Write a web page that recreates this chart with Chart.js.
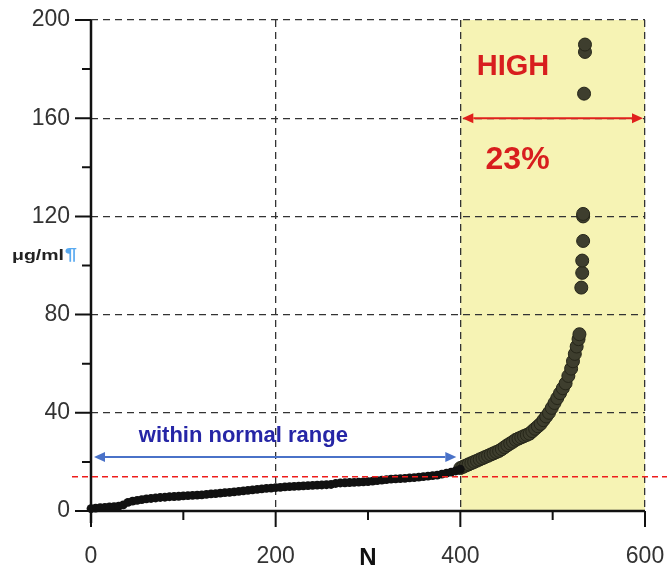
<!DOCTYPE html>
<html>
<head>
<meta charset="utf-8">
<script src="https://cdn.jsdelivr.net/npm/chart.js@4/dist/chart.umd.min.js"></script>
<style>
  html, body { margin: 0; padding: 0; background: #fff; }
  #wrap { width: 667px; height: 572px; }
</style>
</head>
<body>
<div id="wrap"><canvas id="levelChart" width="667" height="572"></canvas></div>
<script>
// ── Data ───────────────────────────────────────────────────────
const normalN   = [0, 5, 10, 15, 20, 25, 30, 35, 40, 45, 50, 55, 60, 65, 70, 75, 80, 85, 90, 95,
                   100, 105, 110, 115, 120, 125, 130, 135, 140, 145, 150, 155, 160, 165, 170, 175, 180, 185, 190, 195,
                   200, 205, 210, 215, 220, 225, 230, 235, 240, 245, 250, 255, 260, 265, 270, 275, 280, 285, 290, 295,
                   300, 305, 310, 315, 320, 325, 330, 335, 340, 345, 350, 355, 360, 365, 370, 375, 380, 385, 390, 395, 400];
const normalVal = [1.0, 1.2, 1.4, 1.5, 1.7, 1.8, 2.0, 2.5, 3.5, 4.0, 4.3, 4.6, 4.9, 5.1, 5.3, 5.5, 5.6, 5.8, 5.9, 6.0,
                   6.2, 6.3, 6.4, 6.5, 6.6, 6.8, 7.0, 7.1, 7.3, 7.5, 7.6, 7.8, 8.0, 8.2, 8.4, 8.6, 8.8, 9.0, 9.2, 9.3,
                   9.5, 9.6, 9.8, 9.9, 10.0, 10.1, 10.2, 10.3, 10.4, 10.5, 10.6, 10.7, 10.8, 11.2, 11.4, 11.5, 11.6, 11.7, 11.8, 11.9,
                   12.0, 12.2, 12.4, 12.6, 12.8, 13.0, 13.1, 13.2, 13.3, 13.5, 13.6, 13.8, 14.0, 14.2, 14.4, 14.6, 15.0, 15.4, 15.8, 16.3, 17.0];

const highN   = [400, 403, 406, 409, 412, 415, 418, 421, 424, 427, 430, 433, 436, 439, 442, 445, 448, 451, 454, 457,
                 460, 463, 466, 469, 472, 475, 478, 481, 484, 487, 490, 493, 496, 499, 502, 505, 508, 511, 514, 517,
                 520, 522, 524, 526, 528, 529, 531, 532, 532, 533, 533, 533, 534, 535, 535];
const highVal = [17.5, 18, 18.5, 19, 19.5, 20, 20.5, 21, 21.5, 22, 22.5, 23, 23.5, 24, 24.5, 25.2, 26, 26.8, 27.5, 28.2,
                 29, 29.5, 30, 30.5, 31, 31.5, 32.5, 33.5, 34.5, 35.5, 37, 38.5, 40, 42, 44, 46, 48, 50, 52, 55,
                 58, 61, 64, 67, 70, 72, 91, 97, 102, 110, 120, 121, 170, 187, 190];

const xTickLabels = [0, 200, 400, 600];
const yTickLabels = [0, 40, 80, 120, 160, 200];

const normalLimit = 14;    // red dashed line
const normalArrowY = 22;
const highArrowY   = 160;
const highFrom = 400, highTo = 600;

// ── Overlay: background, shaded region, axes, arrows, texts ────
const overlay = {
    id: 'overlay',
    beforeDraw(chart) {
        const { ctx, scales: { x, y } } = chart;
        ctx.save();
        ctx.fillStyle = '#fff';
        ctx.fillRect(0, 0, chart.width, chart.height);
        ctx.fillStyle = '#f6f3b4';
        const xl = x.getPixelForValue(highFrom), xr = x.getPixelForValue(highTo);
        ctx.fillRect(xl, y.getPixelForValue(200), xr - xl, y.getPixelForValue(0) - y.getPixelForValue(200));
        ctx.restore();
    },
    afterDatasetsDraw(chart) {
        const { ctx, scales: { x, y } } = chart;
        const x0 = x.getPixelForValue(0), y0 = y.getPixelForValue(0);
        ctx.save();

        // axis lines
        ctx.strokeStyle = '#111';
        ctx.lineWidth = 2.5;
        ctx.beginPath();
        ctx.moveTo(x0, y.getPixelForValue(200));
        ctx.lineTo(x0, y0 + 12);
        ctx.moveTo(x0 - 2, y0);
        ctx.lineTo(x.getPixelForValue(600), y0);
        ctx.stroke();

        // tick marks
        ctx.lineWidth = 2;
        ctx.beginPath();
        y.ticks.forEach(t => {
            const py = y.getPixelForValue(t.value);
            const len = yTickLabels.includes(t.value) ? 16 : 9;
            ctx.moveTo(x0 - len, py); ctx.lineTo(x0, py);
        });
        x.ticks.forEach(t => {
            const px = x.getPixelForValue(t.value);
            const len = xTickLabels.includes(t.value) ? 16 : 9;
            ctx.moveTo(px, y0); ctx.lineTo(px, y0 + len);
        });
        ctx.stroke();

        // red dashed limit line (runs past the plot)
        const ly = y.getPixelForValue(normalLimit);
        ctx.strokeStyle = '#ee1c1c';
        ctx.lineWidth = 1.5;
        ctx.setLineDash([6, 4]);
        ctx.beginPath();
        ctx.moveTo(72, ly);
        ctx.lineTo(chart.width, ly);
        ctx.stroke();
        ctx.setLineDash([]);

        // arrows
        const arrow = (xa, xb, py, color, w, head) => {
            ctx.strokeStyle = color; ctx.fillStyle = color; ctx.lineWidth = w;
            ctx.beginPath(); ctx.moveTo(xa + head, py); ctx.lineTo(xb - head, py); ctx.stroke();
            ctx.beginPath();
            ctx.moveTo(xa, py); ctx.lineTo(xa + head, py - head * 0.45); ctx.lineTo(xa + head, py + head * 0.45);
            ctx.closePath(); ctx.fill();
            ctx.beginPath();
            ctx.moveTo(xb, py); ctx.lineTo(xb - head, py - head * 0.45); ctx.lineTo(xb - head, py + head * 0.45);
            ctx.closePath(); ctx.fill();
        };
        arrow(x0 + 3, x.getPixelForValue(highFrom) - 4, y.getPixelForValue(normalArrowY), '#4a72c8', 2, 11);
        arrow(x.getPixelForValue(highFrom) + 2, x.getPixelForValue(highTo) - 2, y.getPixelForValue(highArrowY), '#e0201c', 2, 11);

        // texts
        ctx.textAlign = 'center';
        ctx.textBaseline = 'middle';
        ctx.fillStyle = '#2626a6';
        ctx.font = 'bold 22px "Liberation Sans", Arial, sans-serif';
        ctx.fillText('within normal range', x.getPixelForValue(165), y.getPixelForValue(30.5));

        ctx.fillStyle = '#d81e1e';
        ctx.font = 'bold 29px "Liberation Sans", Arial, sans-serif';
        ctx.fillText('HIGH', x.getPixelForValue(457), y.getPixelForValue(181));
        ctx.font = 'bold 32px "Liberation Sans", Arial, sans-serif';
        ctx.fillText('23%', x.getPixelForValue(462), y.getPixelForValue(143));

        ctx.fillStyle = '#111';
        ctx.font = 'bold 24px "Liberation Sans", Arial, sans-serif';
        ctx.fillText('N', x.getPixelForValue(300), 558);

        // y unit label, a little wide like the original
        ctx.textAlign = 'left';
        ctx.translate(12, y.getPixelForValue(104));
        ctx.scale(1.3, 1);
        ctx.font = 'bold 15px "Liberation Sans", Arial, sans-serif';
        ctx.fillStyle = '#222';
        const lbl = 'μg/ml';
        ctx.fillText(lbl, 0, 0);
        const w = ctx.measureText(lbl).width;
        ctx.fillStyle = '#5aaaf0';
        ctx.font = 'bold 17px "Liberation Sans", Arial, sans-serif';
        ctx.fillText('¶', w + 0.5, 0);

        ctx.restore();
    }
};

const gridColor = (labels) => (c) =>
    (c.tick && labels.includes(c.tick.value) && c.tick.value > 0) ? '#333' : 'rgba(0,0,0,0)';

const noPad = s => { s.paddingTop = 0; s.paddingBottom = 0; s.paddingLeft = 0; s.paddingRight = 0; };

new Chart(document.getElementById('levelChart'), {
    type: 'scatter',
    data: {
        datasets: [
            {
                data: normalN.map((n, i) => ({ x: n, y: normalVal[i] })),
                pointRadius: 4.4,
                pointBackgroundColor: '#111',
                pointBorderWidth: 0,
                clip: false
            },
            {
                data: highN.map((n, i) => ({ x: n, y: highVal[i] })),
                pointRadius: 6.5,
                pointBackgroundColor: '#3e3e2e',
                pointBorderColor: '#262619',
                pointBorderWidth: 1,
                clip: false
            }
        ]
    },
    options: {
        responsive: false,
        animation: false,
        layout: { padding: { top: 20, right: 22, left: 0, bottom: 0 } },
        plugins: { legend: { display: false }, tooltip: { enabled: false } },
        scales: {
            x: {
                type: 'linear', min: 0, max: 600,
                afterFit: s => { s.height = 61; noPad(s); },
                ticks: {
                    stepSize: 100, autoSkip: false, maxRotation: 0, padding: 32,
                    color: '#333', font: { family: '"Liberation Sans", Arial, sans-serif', size: 23 },
                    callback: v => xTickLabels.includes(v) ? v : ''
                },
                grid: { color: gridColor(xTickLabels), lineWidth: 1.3, drawTicks: false },
                border: { display: false, dash: [7, 5] }
            },
            y: {
                type: 'linear', min: 0, max: 200,
                afterFit: s => { s.width = 91; noPad(s); },
                ticks: {
                    stepSize: 20, autoSkip: false, padding: 21,
                    color: '#333', font: { family: '"Liberation Sans", Arial, sans-serif', size: 23 },
                    callback: v => yTickLabels.includes(v) ? v : ''
                },
                grid: { color: gridColor(yTickLabels), lineWidth: 1.3, drawTicks: false },
                border: { display: false, dash: [7, 5] }
            }
        }
    },
    plugins: [overlay]
});
</script>
</body>
</html>
